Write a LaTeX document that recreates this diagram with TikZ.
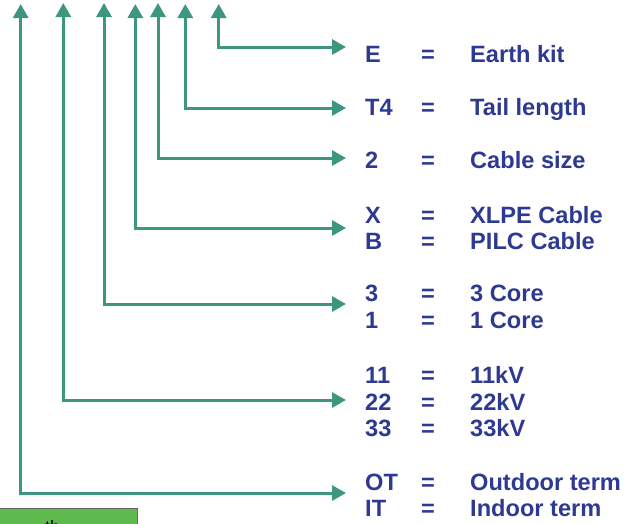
\documentclass[tikz,border=0pt]{standalone}
\usepackage{fontspec}
\setmainfont{Liberation Sans}
\usetikzlibrary{arrows.meta}
\definecolor{teal1}{RGB}{60,150,128}
\definecolor{navy1}{RGB}{46,57,145}
\definecolor{green1}{RGB}{94,186,78}
\begin{document}
\begin{tikzpicture}[x=1pt,y=-1pt,
  conn/.style={draw=teal1,line width=3pt,{Triangle[length=14pt,width=15pt]}-{Triangle[length=14pt,width=15pt]}},
  lbl/.style={font=\fontsize{23.6}{26.5}\selectfont\bfseries,text=navy1,inner sep=0pt},
  code/.style={lbl,anchor=base west},
  eq/.style={lbl,anchor=base},
  desc/.style={lbl,anchor=base west}]
\useasboundingbox (0,0) rectangle (631,523);
\clip (0,0) rectangle (631,523);
% codes
\foreach \n/\c/\d/\y in {E/E/Earth kit/62, T/T4/Tail length/115, S/2/Cable size/168,
  X/X/XLPE Cable/223.5, B/B/PILC Cable/249.5, C3/3/3 Core/301.5, C1/1/1 Core/328,
  V1/11/11kV/383.5, V2/22/22kV/410, V3/33/33kV/436.5, O/OT/Outdoor term/490, I/IT/Indoor term/516.5}{
  \node[code] (c\n) at (365,\y) {\c};
  \node[eq] (q\n) at (428,\y) {=};
  \node[desc] (d\n) at (470,\y) {\d};
}
% connector ends
\coordinate (tE) at (218.7,4);  \coordinate (eE) at (346,47);
\coordinate (tT) at (185.3,4);  \coordinate (eT) at (346,108);
\coordinate (tS) at (158,3);    \coordinate (eS) at (346,158);
\coordinate (tX) at (135.3,4);  \coordinate (eX) at (346,228);
\coordinate (tC) at (104,3);    \coordinate (eC) at (346,304);
\coordinate (tV) at (63.3,3);   \coordinate (eV) at (346,400);
\coordinate (tO) at (20.7,4);   \coordinate (eO) at (346,493);
\foreach \k in {E,T,S,X,C,V,O}{
  \draw[conn] (t\k) |- (e\k);
}
% green box (cut off)
\node[draw=gray!80!black,fill=green1,line width=1pt,minimum width=138pt,minimum height=20pt,anchor=north west,inner sep=0pt] (gbox) at (-1,508) {};
\node[anchor=base west,inner sep=0pt,font=\fontsize{18}{20}\selectfont] (gtxt) at (45,533) {th};
\end{tikzpicture}
\end{document}
